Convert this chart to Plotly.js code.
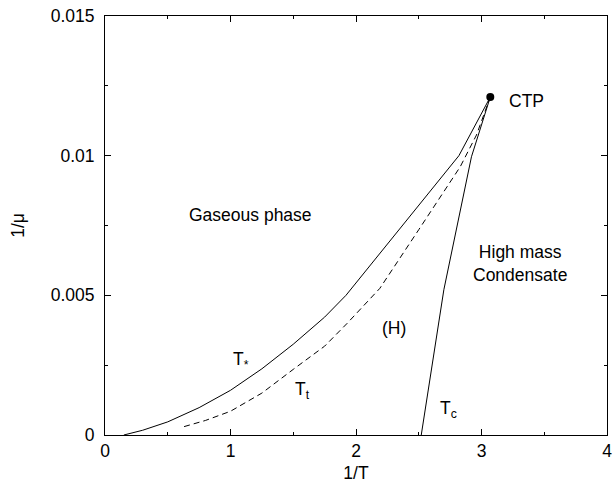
<!DOCTYPE html>
<html>
<head>
<meta charset="utf-8">
<script src="https://cdn.plot.ly/plotly-3.0.1.min.js"></script>
<style>html,body{margin:0;padding:0;background:#fff;}#chart{width:616px;height:483px;}</style>
</head>
<body>
<div id="chart"></div>
<script>
// T* (solid) boundary
const tStarX = [0.15, 0.3, 0.5, 0.75, 1.0, 1.25, 1.5, 1.75, 1.92, 2.2, 2.5, 2.82, 3.07];
const tStarY = [0.0, 0.00017, 0.00047, 0.00098, 0.0016, 0.00237, 0.00325, 0.00422, 0.005, 0.00655, 0.00822, 0.01, 0.0121];
// Tt (dashed) boundary
const tTX = [0.63, 0.8, 1.0, 1.25, 1.5, 1.75, 1.93, 2.19, 2.5, 2.83, 2.96, 3.07];
const tTY = [0.0003, 0.00052, 0.00085, 0.0015, 0.00235, 0.00318, 0.004, 0.00525, 0.00735, 0.0096, 0.01074, 0.0121];
// Tc (solid) boundary
const tCX = [2.52, 2.7, 2.92, 3.07];
const tCY = [0.0, 0.0052, 0.00996, 0.0121];
// Critical triple point
const ctpX = [3.07];
const ctpY = [0.0121];
// Axis ticks
const xRange = [0, 4];
const yRange = [0, 0.015];
const xTicks = [0, 1, 2, 3, 4];
const xTickText = ["0", "1", "2", "3", "4"];
const xMinor = [0.5, 1.5, 2.5, 3.5];
const yTicks = [0, 0.005, 0.01, 0.015];
const yTickText = ["0", "0.005", "0.01", "0.015"];
const yMinor = [0.0025, 0.0075, 0.0125];
// Labels
const labelText = ["Gaseous phase", "High mass<br>Condensate", "(H)", "T<sub>*</sub>", "T<sub>t</sub>", "T<sub>c</sub>", "CTP"];
const labelX = [1.16, 3.31, 2.3, 1.08, 1.57, 2.74, 3.36];
const labelY = [0.00788, 0.00614, 0.00382, 0.00265, 0.0016, 0.0009, 0.01194];

const fontFam = "Liberation Sans, Arial, Helvetica, sans-serif";
const line = {color: "#000", width: 1};
const traces = [
  {x: tStarX, y: tStarY, mode: "lines", line: line, hoverinfo: "skip"},
  {x: tTX, y: tTY, mode: "lines", line: {color: "#000", width: 1, dash: "6px,4px"}, hoverinfo: "skip"},
  {x: tCX, y: tCY, mode: "lines", line: line, hoverinfo: "skip"},
  {x: ctpX, y: ctpY, mode: "markers", marker: {color: "#000", size: 8}, hoverinfo: "skip"}
];
const annotations = labelText.map((t, i) => ({
  x: labelX[i], y: labelY[i], xref: "x", yref: "y", text: t, showarrow: false,
  font: {family: fontFam, size: 17.5, color: "#000"}, xanchor: "center", yanchor: "middle"
}));
const axisCommon = {
  showgrid: false, zeroline: false, showline: true, linecolor: "#000", linewidth: 1,
  mirror: "ticks", ticks: "inside", ticklen: 6, tickcolor: "#000", tickwidth: 1,
  tickfont: {family: fontFam, size: 17.5, color: "#000"}
};
const layout = {
  width: 616, height: 483,
  margin: {l: 104.5, r: 9, t: 16, b: 48},
  paper_bgcolor: "#fff", plot_bgcolor: "#fff",
  showlegend: false,
  xaxis: Object.assign({}, axisCommon, {
    range: xRange, tickmode: "array", tickvals: xTicks, ticktext: xTickText,
    minor: {tickmode: "array", tickvals: xMinor, ticks: "inside", ticklen: 3, tickcolor: "#000", tickwidth: 1, showgrid: false},
    title: {text: "1/T", font: {family: fontFam, size: 17.5, color: "#000"}, standoff: 11}
  }),
  yaxis: Object.assign({}, axisCommon, {
    range: yRange, tickmode: "array", tickvals: yTicks, ticktext: yTickText,
    ticklabelstandoff: 6,
    minor: {tickmode: "array", tickvals: yMinor, ticks: "inside", ticklen: 3, tickcolor: "#000", tickwidth: 1, showgrid: false},
    title: {text: "1/μ", font: {family: fontFam, size: 17.5, color: "#000"}, standoff: 21}
  }),
  annotations: annotations
};
Plotly.newPlot("chart", traces, layout, {displayModeBar: false, staticPlot: true});
</script>
</body>
</html>
